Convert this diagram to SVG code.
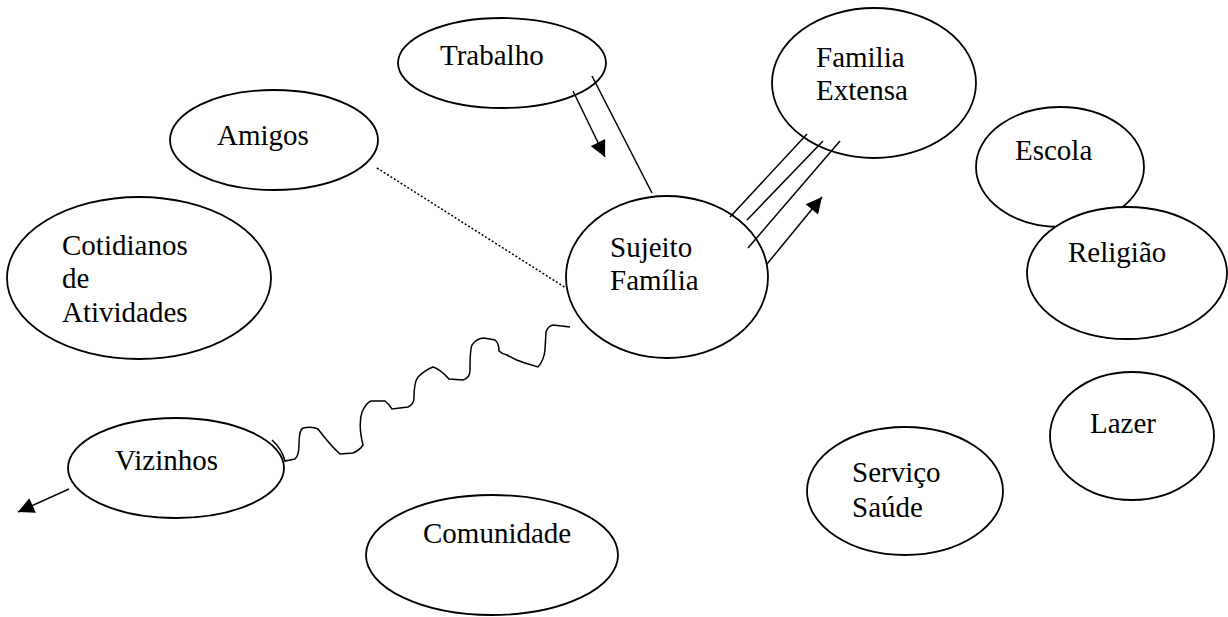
<svg xmlns="http://www.w3.org/2000/svg" width="1228" height="617" viewBox="0 0 1228 617">
<style>
.n ellipse{fill:#fff;stroke:#000;stroke-width:1.8}
.n text{font-size:29px;fill:#000}
.c line,.c path{stroke:#000;stroke-width:1.5;fill:none}
.c .dot{stroke-dasharray:2,2}
</style>
<defs>
<marker id="ah" viewBox="0 0 10 10" refX="10" refY="5" markerWidth="18" markerHeight="16" markerUnits="userSpaceOnUse" orient="auto">
<path d="M0,0 L10,5 L0,10 Z" fill="#000"/>
</marker>
</defs>
<rect width="1228" height="617" fill="#fff"/>
<g font-family="'Liberation Serif', serif">
<g id="n-trabalho" class="n"><ellipse cx="502" cy="63" rx="104" ry="45"/><text x="440" y="65">Trabalho</text></g>
<g id="n-familia-extensa" class="n"><ellipse cx="874" cy="83" rx="102" ry="75"/><text x="816" y="67">Familia</text><text x="816" y="100">Extensa</text></g>
<g id="n-amigos" class="n"><ellipse cx="274" cy="140" rx="104" ry="50"/><text x="217" y="145">Amigos</text></g>
<g id="n-cotidianos" class="n"><ellipse cx="139" cy="278" rx="132" ry="81"/><text x="62" y="255">Cotidianos</text><text x="62" y="288">de</text><text x="62" y="322">Atividades</text></g>
<g id="n-sujeito" class="n"><ellipse cx="667" cy="277" rx="101" ry="81"/><text x="610" y="257">Sujeito</text><text x="610" y="290">Família</text></g>
<g id="n-escola" class="n"><ellipse cx="1060" cy="167" rx="84" ry="60"/><text x="1015" y="160">Escola</text></g>
<g id="n-religiao" class="n"><ellipse cx="1127" cy="273" rx="100" ry="66"/><text x="1068" y="262">Religião</text></g>
<g id="n-lazer" class="n"><ellipse cx="1132" cy="436" rx="82" ry="64"/><text x="1090" y="433">Lazer</text></g>
<g id="n-servico-saude" class="n"><ellipse cx="905" cy="491" rx="98" ry="64"/><text x="852" y="482">Serviço</text><text x="852" y="517">Saúde</text></g>
<g id="n-comunidade" class="n"><ellipse cx="492" cy="555" rx="126" ry="60"/><text x="423" y="543">Comunidade</text></g>
<g id="n-vizinhos" class="n"><ellipse cx="176" cy="468" rx="108" ry="50"/><text x="115" y="470">Vizinhos</text></g>
</g>
<g id="connectors" class="c">
<line x1="573" y1="91" x2="605" y2="157" marker-end="url(#ah)"/>
<line x1="592" y1="76" x2="652" y2="193"/>
<line x1="730" y1="217" x2="807" y2="134"/>
<line x1="747" y1="220" x2="823" y2="141"/>
<line x1="748" y1="248" x2="840" y2="141"/>
<line x1="767" y1="264" x2="822" y2="197" marker-end="url(#ah)"/>
<line class="dot" x1="377" y1="168" x2="566" y2="288"/>
<line x1="69" y1="489" x2="18" y2="512" marker-end="url(#ah)"/>
<path d="M272,440 Q282,449 285,461 L295,459 Q299,456 299,444 Q299,430 303,428 Q312,426 318,429 Q330,445 340,454 L353,453 Q360,450 363,445 Q358,425 362,412 Q366,403 371,401 L385,401 Q390,405 392,409 L408,407 Q414,404 414,398 Q414,382 418,377 Q425,370 433,367 Q440,369 449,379 L463,380 Q470,378 470,370 Q470,350 472,345 Q477,338 484,338 L495,340 Q499,343 499,351 Q502,354 507,355 Q515,360 525,363 L538,367 Q544,360 545,350 L546,332 Q548,326 553,325 L570,327"/>
</g>
</svg>
